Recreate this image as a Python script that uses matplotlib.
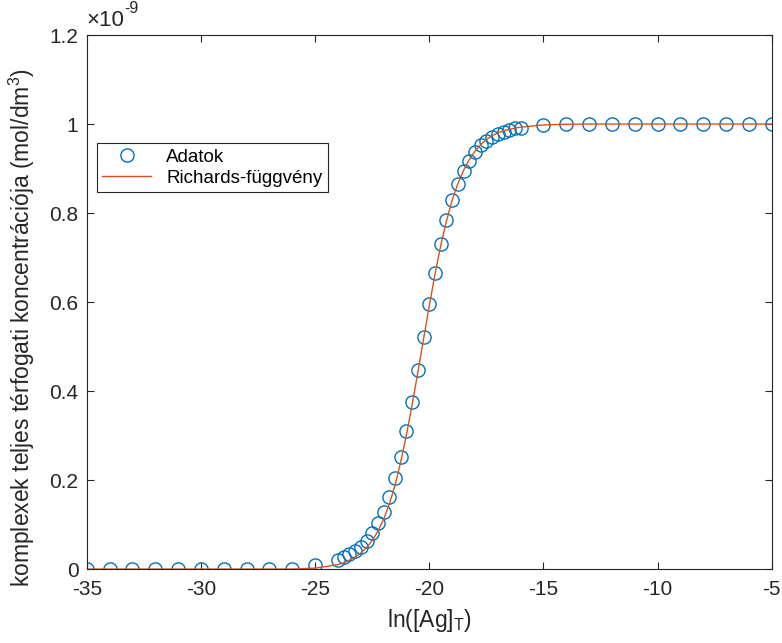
import numpy as np
import matplotlib.pyplot as plt
from matplotlib.ticker import FuncFormatter

plt.rcParams['font.family'] = ['Liberation Sans', 'DejaVu Sans']

# ln([Ag]_T) values of the data points
x_data = [-35, -34, -33, -32, -31, -30, -29, -28, -27, -26, -25,
          -24, -23.75, -23.5, -23.25, -23, -22.75, -22.5, -22.25, -22,
          -21.75, -21.5, -21.25, -21, -20.75, -20.5, -20.25, -20,
          -19.75, -19.5, -19.25, -19, -18.75, -18.5, -18.25, -18,
          -17.75, -17.5, -17.25, -17, -16.75, -16.5, -16.25, -16,
          -15, -14, -13, -12, -11, -10, -9, -8, -7, -6, -5]

# concentration (1e-9 mol/dm3)
y_data = [0, 0, 0, 0, 0, 0, 0, 0, 0, 0.001, 0.008,
          0.020, 0.026, 0.033, 0.041, 0.050, 0.064, 0.080, 0.103, 0.129,
          0.163, 0.204, 0.252, 0.311, 0.375, 0.447, 0.522, 0.596,
          0.666, 0.730, 0.784, 0.830, 0.866, 0.895, 0.918, 0.937,
          0.952, 0.963, 0.971, 0.978, 0.983, 0.987, 0.990, 0.992,
          0.997, 0.999, 0.999, 1.0, 1.0, 1.0, 1.0, 1.0, 1.0, 1.0, 1.0]

# fitted Richards curve
y_fit = [0, 0, 0, 0, 0, 0, 0, 0, 0, 0, 0.002,
         0.010, 0.014, 0.020, 0.027, 0.036, 0.048, 0.064, 0.085, 0.112,
         0.146, 0.189, 0.241, 0.302, 0.370, 0.443, 0.518, 0.592,
         0.663, 0.727, 0.782, 0.829, 0.866, 0.896, 0.920, 0.939,
         0.954, 0.965, 0.974, 0.980, 0.985, 0.988, 0.991, 0.993,
         0.998, 0.9995, 1.0, 1.0, 1.0, 1.0, 1.0, 1.0, 1.0, 1.0, 1.0]

x_ticks = [-35, -30, -25, -20, -15, -10, -5]
y_ticks = [0, 0.2, 0.4, 0.6, 0.8, 1.0, 1.2]

x = np.array(x_data)
y = np.array(y_data) * 1e-9
yf = np.array(y_fit) * 1e-9

fig = plt.figure(figsize=(7.82, 6.43), dpi=100)
ax = fig.add_axes([0.111, 0.115, 0.876, 0.8305])

ax.plot(x, y, 'o', mfc='none', mec='#0072BD', ms=9.5, mew=1.0, label='Adatok')
ax.plot(x, yf, '-', color='#D95319', lw=1.0, label='Richards-függvény')

ax.set_xlim(-35, -5)
ax.set_ylim(0, 1.2e-9)
ax.set_xticks(x_ticks)
ax.set_yticks(np.array(y_ticks) * 1e-9)

# MATLAB-like tick labels: plain hyphen minus, no trailing zeros
ax.xaxis.set_major_formatter(FuncFormatter(lambda v, p: '%g' % v))
ax.yaxis.set_major_formatter(FuncFormatter(lambda v, p: '%g' % round(v * 1e9, 3)))

# exponent label above the y axis
ax.text(0.0, 1.008, '×10', transform=ax.transAxes,
        fontsize=16, color='#262626', ha='left', va='bottom')
ax.text(0.055, 1.035, '-9', transform=ax.transAxes,
        fontsize=11.5, color='#262626', ha='left', va='bottom')

ax.tick_params(direction='in', top=True, right=True, labelsize=15,
               colors='#262626', length=5, width=0.8)
ax.tick_params(axis='x', pad=8)
ax.tick_params(axis='y', pad=6)
for s in ax.spines.values():
    s.set_color('#262626')
    s.set_linewidth(0.8)

ax.set_xlabel('ln([Ag]$_\\mathregular{T}$)', fontsize=16.5, color='#262626', labelpad=6)
ax.set_ylabel('komplexek teljes térfogati koncentrációja (mol/dm$^\\mathregular{3}$)',
              fontsize=16.5, color='#262626')
ax.yaxis.set_label_coords(-0.073, 0.452)

leg = ax.legend(loc='upper left', bbox_to_anchor=(0.0146, 0.798), fontsize=13.5,
                fancybox=False, edgecolor='#262626', framealpha=1,
                borderaxespad=0, handlelength=2.6, borderpad=0.3,
                labelspacing=0.2)
leg.get_frame().set_linewidth(0.8)

fig.savefig('out.png', dpi=100)
